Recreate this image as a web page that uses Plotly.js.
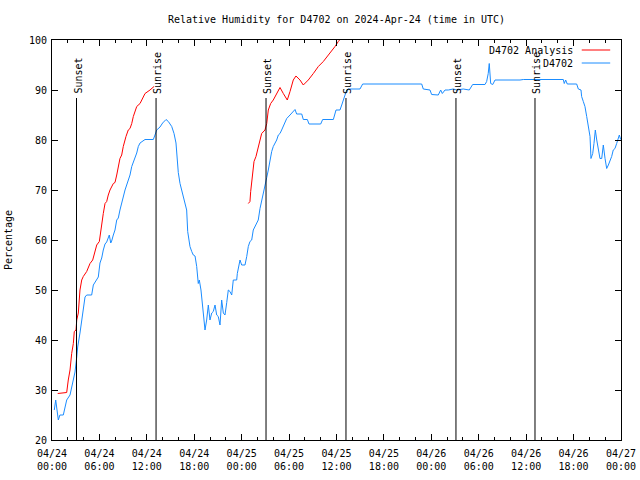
<!DOCTYPE html>
<html>
<head>
<meta charset="utf-8">
<script src="https://cdn.plot.ly/plotly-3.0.1.min.js"></script>
<style>html,body{margin:0;padding:0;background:#fff;}#chart{width:640px;height:480px;}</style>
</head>
<body>
<div id="chart"></div>
<script>
// Hours since 2024-04-24 00:00 UTC
const obsHours = [0.29,0.47,0.8,1.0,1.43,1.65,1.86,2.28,2.49,2.7,2.91,3.13,3.25,3.54,3.76,3.96,4.18,4.39,5.02,5.23,5.86,6.07,6.29,6.49,6.71,6.92,7.12,7.25,7.43,7.55,7.76,7.97,8.19,8.39,8.6,8.82,9.02,9.24,9.45,9.65,9.87,10.09,10.5,10.72,10.92,11.14,11.77,12.82,13.03,13.25,13.67,14.0,14.43,14.72,15.15,15.44,15.69,15.78,15.98,16.2,16.61,16.83,17.04,17.17,17.46,17.68,17.88,18.1,18.31,18.51,18.64,18.85,19.02,19.14,19.23,19.36,19.57,19.78,19.99,20.21,20.41,20.63,20.84,21.04,21.26,21.47,21.68,21.89,22.11,22.31,22.52,22.74,22.94,23.37,23.45,23.57,23.79,24.0,24.42,24.64,24.84,25.05,25.27,25.47,25.69,25.9,26.1,26.32,26.53,26.74,26.95,27.17,27.37,27.59,27.8,28.0,28.43,28.64,28.85,29.06,29.27,29.48,29.7,30.12,30.53,30.75,30.96,31.6,31.8,32.31,32.52,34.0,34.25,35.6,35.94,36.44,36.66,37.08,37.29,37.49,38.97,39.31,46.78,46.98,47.83,48.04,48.88,49.18,49.39,49.73,50.15,50.78,51.21,52.04,52.8,53.23,54.79,55.0,55.2,55.33,55.51,55.77,56.06,59.22,59.64,64.7,64.82,65.0,65.2,66.39,66.6,66.94,67.02,67.23,67.44,67.66,67.86,68.08,68.2,68.42,68.58,68.75,68.93,69.13,69.34,69.56,69.76,69.98,70.19,70.4,70.61,70.82,71.02,71.24,71.45,71.66,71.79,71.96];
const obsRH = [26,28,24,25,25,26.6,28,29,30.4,32,33.6,36.6,38.6,41.4,44,46.6,48.6,49,49,51,52.6,55.4,56.4,58,59.2,59.6,60.6,61,59.4,59.8,61,62,64,64.4,66,67.6,68.6,70,71,72,73,74.7,76.4,77.4,78.7,79.4,80.1,80.1,81,82,82.6,83.4,84.1,83.7,82.7,81.3,79.4,76.7,73.5,71.3,68.7,67.3,66,61.7,58.7,57.7,57,56.8,54.7,51.3,52,50,47.3,46,45.3,42,44,47,44,45.4,45.7,47,45,44.7,43,48,45.4,45,47.5,50,49.7,49,52,52,53.3,54.3,56,55,55,56.7,58.7,59.7,60,62,62.7,63.3,64,66.3,68,69.3,71,72.5,74,76,77.7,78.7,80,81,81.3,82,82.7,83.7,84.3,85,85.7,86.1,85.2,85.2,84.1,84.1,83.2,83.2,84.1,84.1,86,86,87,89,90,90.2,90.2,91.2,91.2,90.2,90,89.1,89,90,89.3,90,90,90.2,90,90.2,90,91.1,91.1,91.7,93.3,95.3,91.3,91.1,92,92,92.1,92.1,91.3,92,91.2,91.2,90.2,90,88.7,87.7,86.7,84.7,82.7,80.7,76.3,77.3,79.3,82,80,78.3,76.3,76.3,79,76.3,74.3,75,75.7,76.7,78,78.3,79.3,80.3,81,80.1];
const anaHours = [0.72,1.86,2.06,2.28,2.49,2.7,2.82,3.04,3.13,3.33,3.45,3.54,3.76,3.96,4.39,4.81,5.15,5.44,5.66,5.99,6.2,6.49,6.71,6.92,7.12,7.34,7.76,7.97,8.19,8.39,8.6,8.82,9.02,9.36,9.65,9.87,10.09,10.29,10.72,11.14,11.35,11.77,12.4,12.91,18.0,24.84,25.05,25.14,25.27,25.47,25.56,25.81,26.1,26.53,26.95,27.17,27.37,27.67,28.0,28.43,28.85,29.27,29.77,30.12,30.53,30.87,31.38,31.8,32.43,33.07,33.7,34.33,35.18,35.81,36.23,36.66];
const anaRH = [29.3,29.5,32,34,37.3,39.3,41.7,42,44,45.4,48,50,52,52.7,53.7,55.3,56,57.7,59,59.7,62.3,65.3,67.3,67.7,69,70,71.3,71.5,73,74.7,76.3,77,78.7,80.7,82,82.3,83.3,84.7,86.7,87.3,88,89.3,90,90.7,null,67.3,67.7,69.7,71.3,74,75.7,76.7,78.7,81.3,82,83.3,86,87.3,88,89.3,90.5,89.3,88,89.7,92,92.8,92,91,92,93.3,94.7,95.7,97.3,98.7,99.7,100.5];
const seriesNames = ['D4702 Analysis','D4702'];
const seriesColors = ['#ff0000','#1a8cff'];
const sunLabels = ['Sunset','Sunrise','Sunset','Sunrise','Sunset','Sunrise'];
const sunTimes = ['2024-04-24 03:06','2024-04-24 13:10','2024-04-25 03:05','2024-04-25 13:12','2024-04-26 03:07','2024-04-26 13:07'];
const sunLineTop = 88.4;

function toTime(h){
  const ms = Date.UTC(2024,3,24) + Math.round(h*3600000);
  return new Date(ms).toISOString().slice(0,19).replace('T',' ');
}

const FONT = 'DejaVu Sans Mono, monospace';
const FS = 10;

const traces = [
  {x: anaHours.map(toTime), y: anaRH, type:'scatter', mode:'lines', name:seriesNames[0],
   line:{color:seriesColors[0], width:1}, connectgaps:false, showlegend:false},
  {x: obsHours.map(toTime), y: obsRH, type:'scatter', mode:'lines', name:seriesNames[1],
   line:{color:seriesColors[1], width:1}, showlegend:false}
];

const shapes = sunTimes.map(t => ({type:'line', xref:'x', yref:'y', x0:t, x1:t, y0:20, y1:sunLineTop,
  line:{color:'black', width:1}}));
const annotations = sunTimes.map((t,i) => ({x:t, y:sunLineTop, xref:'x', yref:'y', text:sunLabels[i],
  textangle:-90, showarrow:false, xanchor:'center', yanchor:'bottom', yshift:2, xshift:1,
  font:{family:FONT, size:FS, color:'black'}}));

// gnuplot-style key: right-aligned text followed by a line sample
const keyRowY = [0.975, 0.9425];
seriesNames.forEach((n,i) => {
  annotations.push({xref:'paper', yref:'paper', x:0.92, y:keyRowY[i], xanchor:'right', yanchor:'middle',
    text:n, showarrow:false, font:{family:FONT, size:FS, color:'black'}});
  shapes.push({type:'line', xref:'paper', yref:'paper', x0:0.931, x1:0.981, y0:keyRowY[i], y1:keyRowY[i],
    line:{color:seriesColors[i], width:1}});
});

const layout = {
  width:640, height:480,
  margin:{l:52, r:19, t:40, b:40},
  paper_bgcolor:'white', plot_bgcolor:'white',
  font:{family:FONT, size:FS, color:'black'},
  title:{text:'Relative Humidity for D4702 on 2024-Apr-24 (time in UTC)', xref:'paper', x:0.5,
    yref:'container', y:0.96, yanchor:'middle', font:{family:FONT, size:FS, color:'black'}},
  xaxis:{type:'date', range:['2024-04-24 00:00','2024-04-27 00:00'],
    tickmode:'linear', tick0:'2024-04-24 00:00', dtick:6*3600000, tickformat:'%m/%d<br>%H:%M',
    ticks:'inside', ticklen:6, tickcolor:'black', showline:true, linecolor:'black', linewidth:1,
    mirror:'ticks', showgrid:false, zeroline:false, ticklabelstandoff:4,
    minor:{dtick:2*3600000, tick0:'2024-04-24 00:00', ticks:'inside', ticklen:3, tickcolor:'black', showgrid:false},
    tickfont:{family:FONT, size:FS, color:'black'}},
  yaxis:{range:[20,100], tickmode:'linear', tick0:20, dtick:10, ticks:'inside', ticklen:6, tickcolor:'black',
    showline:true, linecolor:'black', linewidth:1, mirror:'ticks', showgrid:false, zeroline:false,
    ticklabelstandoff:2,
    title:{text:'Percentage', standoff:14, font:{family:FONT, size:FS, color:'black'}},
    tickfont:{family:FONT, size:FS, color:'black'}},
  showlegend:false,
  shapes:shapes, annotations:annotations
};

Plotly.newPlot('chart', traces, layout, {staticPlot:true, displayModeBar:false});
</script>
</body>
</html>
